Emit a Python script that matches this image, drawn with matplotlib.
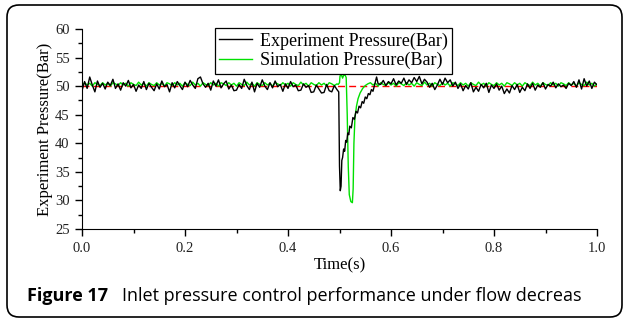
import numpy as np
import matplotlib
matplotlib.use('Agg')
import matplotlib.pyplot as plt
from matplotlib.patches import FancyBboxPatch
from matplotlib.transforms import IdentityTransform
from matplotlib.ticker import MultipleLocator

# --- dados ---
SETPOINT = 50.0

t_exp_before = np.round(np.arange(0.0, 0.4951, 0.005), 4)
p_exp_before = [
    49.2, 50.8, 49.6, 51.6, 50.2, 49.0, 50.9, 49.8, 50.5, 49.5,
    50.7, 50.1, 51.2, 49.6, 50.4, 49.3, 50.6, 50.0, 51.0, 49.7,
    50.3, 49.1, 50.2, 49.6, 50.8, 49.4, 50.5, 49.8, 49.2, 50.4,
    49.5, 50.9, 49.9, 50.3, 49.0, 50.6, 49.7, 50.8, 50.1, 49.4,
    50.7, 49.9, 51.0, 50.2, 49.6, 51.3, 51.6, 50.4, 49.8, 50.5,
    49.3, 50.9, 50.0, 51.1, 49.7, 50.4, 50.9, 49.5, 50.2, 49.2,
    49.3, 50.3, 49.6, 51.2, 50.1, 49.4, 50.7, 49.0, 50.5, 49.8,
    51.1, 50.0, 49.4, 50.6, 49.7, 50.9, 49.9, 50.3, 49.1, 50.4,
    49.6, 50.8, 49.9, 50.2, 49.2, 49.3, 50.4, 49.8, 50.1, 48.9,
    49.0, 50.2, 49.5, 48.8, 48.9, 50.3, 49.2, 49.0, 50.1, 49.4,
]
t_exp_dip = [0.4985, 0.5000, 0.5015, 0.5030, 0.5045, 0.5060, 0.5080, 0.5100,
             0.5120, 0.5140, 0.5160, 0.5180, 0.5200, 0.5230, 0.5260, 0.5290,
             0.5320, 0.5350, 0.5380, 0.5410, 0.5440, 0.5470, 0.5500, 0.5530,
             0.5560, 0.5590, 0.5620, 0.5650, 0.5680, 0.5720, 0.5750]
p_exp_dip = [49.0, 36.0, 31.7, 32.5, 37.0, 37.5, 39.0, 38.6,
             40.5, 40.2, 41.8, 41.5, 43.0, 42.7, 44.5, 44.2,
             45.6, 45.3, 46.5, 46.2, 47.3, 47.0, 48.1, 47.8,
             48.7, 48.5, 49.4, 49.1, 50.2, 51.6, 50.4]
t_exp_after = np.round(np.arange(0.58, 1.0001, 0.005), 4)
p_exp_after = [
    50.3, 51.0, 50.1, 50.8, 50.4, 51.3, 50.2, 50.9, 50.5, 51.4,
    50.3, 51.1, 50.6, 51.5, 50.8, 51.7, 50.4, 51.2, 50.7, 49.8,
    50.5, 49.4, 50.2, 51.2, 50.3, 51.4, 50.6, 51.1, 50.0, 50.7,
    49.6, 50.4, 49.2, 50.1, 49.5, 50.6, 49.0, 49.8, 49.1, 50.3,
    49.7, 50.5, 48.9, 50.2, 49.6, 50.4, 49.3, 50.0, 48.7, 49.5,
    48.8, 50.1, 49.4, 50.3, 48.9, 49.8, 49.2, 50.4, 49.6, 50.5,
    49.3, 50.2, 49.8, 50.6, 49.5, 50.3, 50.0, 50.7, 49.7, 50.4,
    49.9, 50.2, 49.6, 50.5, 50.1, 50.8, 49.8, 51.1, 49.5, 51.3,
    50.0, 50.9, 49.6, 50.7, 50.2,
]

t_sim_before = np.round(np.arange(0.0, 0.4951, 0.005), 4)
p_sim_before = [
    50.1, 50.6, 50.2, 50.5, 50.0, 50.6, 50.3, 50.1, 50.6, 50.2,
    50.5, 50.0, 50.6, 50.4, 50.1, 50.6, 50.2, 50.5, 50.0, 50.6,
    50.3, 50.1, 50.7, 50.2, 50.5, 50.0, 50.6, 50.3, 50.1, 50.6,
    50.2, 50.5, 50.0, 50.6, 50.4, 50.1, 50.6, 50.2, 50.5, 50.0,
    50.6, 50.3, 50.1, 50.7, 50.2, 50.5, 50.0, 50.6, 50.3, 50.1,
    50.6, 50.2, 50.5, 50.0, 50.6, 50.4, 50.1, 50.6, 50.2, 50.5,
    50.0, 50.6, 50.3, 50.1, 50.7, 50.2, 50.5, 50.0, 50.6, 50.3,
    50.1, 50.6, 50.2, 50.5, 50.0, 50.6, 50.4, 50.1, 50.6, 50.2,
    50.5, 50.0, 50.6, 50.3, 50.1, 50.7, 50.2, 50.5, 50.0, 50.6,
    50.3, 50.1, 50.6, 50.2, 50.5, 50.0, 50.6, 50.4, 50.1, 50.4,
]
t_sim_dip = [0.4975, 0.5000, 0.5010, 0.5040, 0.5060, 0.5080, 0.5110, 0.5130,
             0.5150, 0.5170, 0.5190, 0.5220, 0.5250, 0.5265, 0.5280, 0.5300,
             0.5330, 0.5360, 0.5400, 0.5450, 0.5500, 0.5550]
p_sim_dip = [50.3, 50.6, 51.8, 51.9, 51.4, 51.9, 51.9, 51.5,
             45.0, 36.0, 31.0, 29.8, 29.6, 32.0, 40.0, 44.5,
             46.5, 47.8, 48.8, 49.6, 50.1, 50.4]
t_sim_after = np.round(np.arange(0.56, 1.0001, 0.005), 4)
p_sim_after = [
    50.6, 50.2, 50.5, 50.0, 50.6, 50.3, 50.1, 50.6, 50.2, 50.5,
    50.0, 50.6, 50.4, 50.1, 50.6, 50.2, 50.5, 50.0, 50.6, 50.3,
    50.1, 50.7, 50.2, 50.5, 50.0, 50.6, 50.3, 50.1, 50.6, 50.2,
    50.5, 50.0, 50.6, 50.4, 50.1, 50.6, 50.2, 50.5, 50.0, 50.6,
    50.3, 50.1, 50.7, 50.2, 50.5, 50.0, 50.6, 50.3, 50.1, 50.6,
    50.2, 50.5, 50.0, 50.6, 50.4, 50.1, 50.6, 50.2, 50.5, 50.0,
    50.6, 50.3, 50.1, 50.7, 50.2, 50.5, 50.0, 50.6, 50.3, 50.1,
    50.6, 50.2, 50.5, 50.0, 50.6, 50.4, 50.1, 50.6, 50.2, 50.5,
    50.0, 50.6, 50.3, 50.1, 50.7, 50.2, 50.5, 50.0, 50.4,
]

t_exp = np.concatenate([t_exp_before, t_exp_dip, t_exp_after])
p_exp = np.concatenate([p_exp_before, p_exp_dip, p_exp_after])
t_sim = np.concatenate([t_sim_before, t_sim_dip, t_sim_after])
p_sim = np.concatenate([p_sim_before, p_sim_dip, p_sim_after])

SERIF = 'Liberation Serif'
W, H = 626, 322

fig = plt.figure(figsize=(W / 100, H / 100), dpi=100)

# moldura arredondada
card = FancyBboxPatch((7, H - 317), 615, 312,
                      boxstyle='round,pad=0,rounding_size=12',
                      transform=IdentityTransform(), facecolor='none',
                      edgecolor='black', linewidth=1.2, zorder=5)
fig.patches.append(card)

ax = fig.add_axes([82 / W, 1 - 229 / H, 515 / W, 200 / H])
ax.patch.set_alpha(0)

ax.plot([0, 1], [SETPOINT, SETPOINT], color='red', lw=1.0,
        dashes=(5, 3), zorder=1)
ax.plot(t_sim, p_sim, color='#00e000', lw=1.0,
        label='Simulation Pressure(Bar)', zorder=2)
ax.plot(t_exp, p_exp, color='black', lw=1.0,
        label='Experiment Pressure(Bar)', zorder=3)

ax.set_xlim(0, 1.0)
ax.set_ylim(25, 60)
ax.xaxis.set_minor_locator(MultipleLocator(0.1))
ax.yaxis.set_major_locator(MultipleLocator(5))
ax.yaxis.set_minor_locator(MultipleLocator(2.5))
ax.spines['top'].set_visible(False)
ax.spines['right'].set_visible(False)
ax.tick_params(which='major', direction='out', length=5, width=1)
ax.tick_params(which='minor', direction='out', length=3, width=1)
ax.tick_params(labelsize=10.5, pad=4)
ax.set_xticks([0, 0.2, 0.4, 0.6, 0.8, 1.0])
ax.set_xticklabels(['0.0', '0.2', '0.4', '0.6', '0.8', '1.0'])
for lab in ax.get_xticklabels() + ax.get_yticklabels():
    lab.set_family(SERIF)
    lab.set_color('#222222')

ax.set_xlabel('Time(s)', family=SERIF, fontsize=12, labelpad=2)
ax.set_ylabel('Experiment Pressure(Bar)', family=SERIF, fontsize=12, labelpad=1.5)

handles, labels = ax.get_legend_handles_labels()
leg = ax.legend(handles[::-1], labels[::-1], loc='upper left',
                bbox_to_anchor=(0.258, 1.005), frameon=True, fancybox=False,
                edgecolor='black', framealpha=1, borderpad=0.25,
                borderaxespad=0, handlelength=1.8, handletextpad=0.45,
                labelspacing=0.12, prop={'family': SERIF, 'size': 13})
leg.get_frame().set_linewidth(0.9)

# legenda da figura
fig.text(27 / W, 1 - 301 / H, 'Figure 17', family='Open Sans', weight='bold',
         fontsize=13, va='baseline')
fig.text(122 / W, 1 - 301 / H,
         'Inlet pressure control performance under flow decreas',
         family='Open Sans', fontsize=13, va='baseline')

fig.savefig('out.png', dpi=100)
